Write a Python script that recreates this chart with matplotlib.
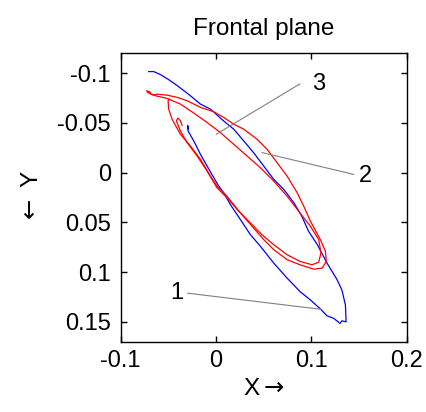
import matplotlib
matplotlib.use("Agg")
import matplotlib.pyplot as plt

plt.rcParams['font.family'] = ['Liberation Sans', 'DejaVu Sans']
plt.rcParams['mathtext.fontset'] = 'dejavusans'

# Curve 1 (blue)
blue_x = [-0.0706, -0.0654, -0.0584, -0.0497, -0.0392, -0.0269, -0.0164, -0.0059, 0.008, 0.0185,
          0.029, 0.0395, 0.050, 0.0605, 0.071, 0.0815, 0.090, 0.097, 0.106, 0.1164, 0.127, 0.132,
          0.1357, 0.1364, 0.132, 0.130, 0.1234, 0.1164, 0.1094, 0.099, 0.088, 0.0745, 0.0605,
          0.0465, 0.036, 0.0255, 0.015, 0.008, 0.0028, -0.0024, -0.0094, -0.0164, -0.0234,
          -0.0294, -0.0297, -0.0290, -0.0297]
blue_y = [-0.1017, -0.1017, -0.0987, -0.0936, -0.0865, -0.0774, -0.069, -0.064, -0.052, -0.0438,
          -0.032, -0.020, -0.0067, 0.0067, 0.0168, 0.030, 0.0438, 0.0589, 0.072, 0.0909, 0.1077,
          0.118, 0.133, 0.150, 0.149, 0.1515, 0.1465, 0.144, 0.137, 0.128, 0.1195, 0.106, 0.0909,
          0.074, 0.0623, 0.0471, 0.032, 0.0202, 0.0135, 0.005, -0.0067, -0.0185, -0.032,
          -0.042, -0.0465, -0.0440, -0.0475]

# Curve 2 (red, outer loop)
red2_x = [-0.0690, -0.0730, -0.0700, -0.0660, -0.0619, -0.0514, -0.041, -0.0304, -0.0164, -0.0024,
          0.008, 0.0185, 0.029, 0.043, 0.0535, 0.064, 0.0745, 0.085, 0.092, 0.099, 0.1094,
          0.1147, 0.1157, 0.1112, 0.1024, 0.088, 0.0745, 0.0605, 0.050, 0.0378, 0.0255, 0.0115,
          0.001, -0.0059, -0.0164, -0.0269, -0.0374, -0.0462, -0.0497, -0.0503, -0.0490]
red2_y = [-0.0810, -0.0825, -0.0800, -0.0780, -0.079, -0.078, -0.0758, -0.0724, -0.0657, -0.0613,
          -0.0556, -0.0488, -0.0438, -0.0337, -0.0236, -0.0101, 0.0034, 0.020, 0.0337, 0.0488,
          0.0673, 0.079, 0.0892, 0.096, 0.097, 0.0926, 0.0875, 0.0774, 0.0673, 0.0539, 0.0404,
          0.0236, 0.0135, 0.0034, -0.0135, -0.0269, -0.0387, -0.0539, -0.064, -0.0724, -0.0740]

# Curve 3 (red, inner loop)
red3_x = [-0.0720, -0.0636, -0.0514, -0.0374, -0.0234, -0.0094, 0.0045, 0.0185, 0.0325, 0.0465,
          0.0605, 0.0745, 0.088, 0.099, 0.1077, 0.110, 0.1077, 0.1007, 0.088, 0.0745, 0.0605,
          0.048, 0.036, 0.0238, 0.0115, 0.001, -0.0094, -0.0199, -0.0304, -0.0374, -0.0416,
          -0.0400, -0.0374, -0.0357]
red3_y = [-0.0810, -0.0774, -0.0747, -0.069, -0.060, -0.0505, -0.0404, -0.0286, -0.0168, -0.005,
          0.0084, 0.0236, 0.0404, 0.0539, 0.0673, 0.0808, 0.090, 0.0926, 0.0892, 0.0825, 0.0724,
          0.0623, 0.0505, 0.0387, 0.0253, 0.0152, -0.0017, -0.0168, -0.0303, -0.042, -0.0522,
          -0.0549, -0.0522, -0.0478]

labels = ['1', '2', '3']
label_pos = [(-0.0416, 0.1212), (0.157, 0.0034), (0.1077, -0.0892)]
pointer_start = [(-0.0297, 0.1212), (0.1444, 0.0017), (0.0878, -0.0892)]
pointer_end = [(0.110, 0.1374), (0.0483, -0.0202), (0.0003, -0.0387)]

x_ticks = [-0.1, 0, 0.1, 0.2]
x_ticklabels = ['-0.1', '0', '0.1', '0.2']
y_ticks = [-0.1, -0.05, 0, 0.05, 0.1, 0.15]
y_ticklabels = ['-0.1', '-0.05', '0', '0.05', '0.1', '0.15']

fig = plt.figure(figsize=(4.27, 4.12), dpi=100)
ax = fig.add_axes([0.2827, 0.1706, 0.6698, 0.7008])

ax.plot(blue_x, blue_y, color='#0000ff', lw=0.9)
ax.plot(red2_x, red2_y, color='#ff0000', lw=0.9)
ax.plot(red3_x, red3_y, color='#ff0000', lw=0.9)

for lab, (tx, ty), (sx, sy), (ex, ey) in zip(labels, label_pos, pointer_start, pointer_end):
    ax.plot([sx, ex], [sy, ey], color='#808080', lw=0.8)
    ax.text(tx, ty, lab, ha='center', va='center', fontsize=17)

ax.set_xlim(-0.1, 0.2)
ax.set_ylim(0.17, -0.1204)
ax.set_xticks(x_ticks)
ax.set_xticklabels(x_ticklabels)
ax.set_yticks(y_ticks)
ax.set_yticklabels(y_ticklabels)
ax.tick_params(direction='in', top=True, right=True, length=4, width=1, labelsize=17)
ax.tick_params(axis='x', pad=6)
ax.tick_params(axis='y', pad=7)
for s in ax.spines.values():
    s.set_linewidth(1)

ax.set_title('Frontal plane', fontsize=17.5, pad=13)
ax.set_xlabel(r'X$\rightarrow$', fontsize=17.5, labelpad=4)
ax.set_ylabel(r'$\leftarrow$ Y', fontsize=17.5, labelpad=10)

fig.savefig('out.png', dpi=100)
